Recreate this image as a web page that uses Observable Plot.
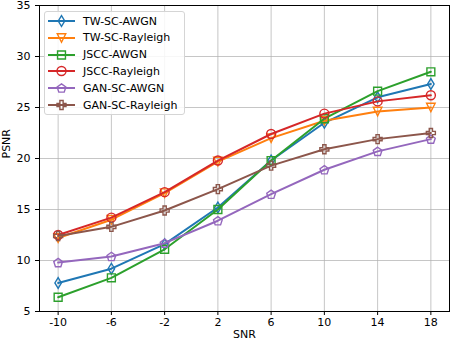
<!DOCTYPE html>
<html><head><meta charset="utf-8">
<script src="https://cdn.jsdelivr.net/npm/d3@7"></script>
<script src="https://cdn.jsdelivr.net/npm/@observablehq/plot@0.6"></script>
<style>
body{margin:0;background:#fff;font-family:"DejaVu Sans",sans-serif;}
#wrap{position:relative;width:452px;height:346px;}
#legend{position:absolute;left:44px;top:10.5px;width:141px;height:104px;box-sizing:border-box;border:1px solid #d5d5d5;border-radius:3px;background:rgba(255,255,255,0.85);font-size:11px;color:#000;}
.row{position:absolute;left:0;height:16px;display:flex;align-items:center;white-space:nowrap;}
.row svg{display:block;}
</style></head><body><div id="wrap"></div>
<script>
// ---- data ----
const snr = [-10, -6, -2, 2, 6, 10, 14, 18];
const yTicks = [5, 10, 15, 20, 25, 30, 35];
const twScAwgn     = [7.8, 9.2, 11.6, 15.2, 19.8, 23.5, 26.0, 27.3];
const twScRayleigh = [12.2, 14.0, 16.6, 19.7, 22.0, 23.7, 24.6, 25.0];
const jsccAwgn     = [6.4, 8.3, 11.1, 15.0, 19.8, 23.9, 26.6, 28.5];
const jsccRayleigh = [12.5, 14.2, 16.7, 19.8, 22.4, 24.4, 25.6, 26.2];
const ganScAwgn    = [9.8, 10.4, 11.7, 13.9, 16.5, 18.9, 20.7, 21.9];
const ganScRayleigh= [12.4, 13.3, 14.9, 17.0, 19.3, 20.9, 21.9, 22.5];
const seriesNames = ["TW-SC-AWGN", "TW-SC-Rayleigh", "JSCC-AWGN", "JSCC-Rayleigh", "GAN-SC-AWGN", "GAN-SC-Rayleigh"];
const seriesValues = [twScAwgn, twScRayleigh, jsccAwgn, jsccRayleigh, ganScAwgn, ganScRayleigh];
const seriesColors = ["#1f77b4", "#ff7f0e", "#2ca02c", "#d62728", "#9467bd", "#8c564b"];

// ---- marker shapes ----
function mk(fn){ return {draw(ctx, size){ const r = Math.sqrt(size / Math.PI); fn(ctx, r); }}; }
const thinDiamond = mk((c, r) => { c.moveTo(0, -r*1.2); c.lineTo(r*0.72, 0); c.lineTo(0, r*1.2); c.lineTo(-r*0.72, 0); c.closePath(); });
const triDown = mk((c, r) => { c.moveTo(0, r*0.95); c.lineTo(-r*0.95, -r*0.95); c.lineTo(r*0.95, -r*0.95); c.closePath(); });
const square = mk((c, r) => { const h = r*0.88; c.moveTo(-h, -h); c.lineTo(h, -h); c.lineTo(h, h); c.lineTo(-h, h); c.closePath(); });
const circle = mk((c, r) => { c.moveTo(r, 0); c.arc(0, 0, r, 0, 2*Math.PI); c.closePath(); });
const pentagon = mk((c, r) => { for (let k = 0; k < 5; k++) { const a = -Math.PI/2 + k*2*Math.PI/5; const x = r*1.02*Math.cos(a), y = r*1.02*Math.sin(a) + r*0.1; k ? c.lineTo(x, y) : c.moveTo(x, y); } c.closePath(); });
const plusFilled = mk((c, r) => { const a = r*0.36, b = r*1.0; const pts = [[-a,-b],[a,-b],[a,-a],[b,-a],[b,a],[a,a],[a,b],[-a,b],[-a,a],[-b,a],[-b,-a],[-a,-a]]; pts.forEach((p,i)=> i ? c.lineTo(p[0],p[1]) : c.moveTo(p[0],p[1])); c.closePath(); });
const seriesSymbols = [thinDiamond, triDown, square, circle, pentagon, plusFilled];

const series = seriesNames.map((name, i) => ({
  name, color: seriesColors[i], sym: seriesSymbols[i],
  data: snr.map((x, j) => ({snr: x, psnr: seriesValues[i][j]}))
}));

const marks = [
  Plot.gridX(snr, {stroke: "#b0b0b0", strokeOpacity: 0.8, strokeWidth: 0.9}),
  Plot.gridY(yTicks, {stroke: "#b0b0b0", strokeOpacity: 0.8, strokeWidth: 0.9})
];
series.forEach(s => {
  marks.push(Plot.line(s.data, {x: "snr", y: "psnr", stroke: s.color, strokeWidth: 2}));
  marks.push(Plot.dot(s.data, {x: "snr", y: "psnr", stroke: s.color, fill: "none", symbol: s.sym, r: 4.5, strokeWidth: 1.4}));
});
marks.push(
  Plot.frame({stroke: "black", strokeWidth: 1}),
  Plot.axisX(snr, {tickSize: 4, tickPadding: 3, tickFormat: d => String(d), label: null}),
  Plot.axisY(yTicks, {tickSize: 4, tickPadding: 5, tickFormat: d => String(d), label: null}),
  Plot.text(["PSNR"], {text: d => d, frameAnchor: "left", dx: -33, rotate: -90, fontSize: 11}),
  Plot.text(["SNR"], {text: d => d, frameAnchor: "bottom", dy: 26, fontSize: 11})
);

const chart = Plot.plot({
  width: 452, height: 346,
  marginLeft: 39, marginRight: 3, marginTop: 5, marginBottom: 35,
  x: {type: "linear", domain: [-11.4, 19.4]},
  y: {type: "linear", domain: [5, 35]},
  style: {fontFamily: "DejaVu Sans", fontSize: "11px", background: "white", color: "black", overflow: "visible"},
  marks
});
const wrap = document.getElementById("wrap");
wrap.appendChild(chart);

// ---- legend ----
function symPath(sym, r){ const p = d3.path(); sym.draw(p, Math.PI*r*r); return p.toString(); }
const legend = document.createElement("div");
legend.id = "legend";
series.forEach((s, i) => {
  const row = document.createElement("div");
  row.className = "row";
  row.style.top = (1.5 + 16.8*i) + "px";
  row.innerHTML = `<svg width="38" height="16" viewBox="0 0 38 16"><line x1="3" x2="30" y1="8" y2="8" stroke="${s.color}" stroke-width="2"/><path transform="translate(16.5,8)" d="${symPath(s.sym, 4.5)}" fill="none" stroke="${s.color}" stroke-width="1.4"/></svg><span>${s.name}</span>`;
  legend.appendChild(row);
});
wrap.appendChild(legend);
</script>
</body></html>
